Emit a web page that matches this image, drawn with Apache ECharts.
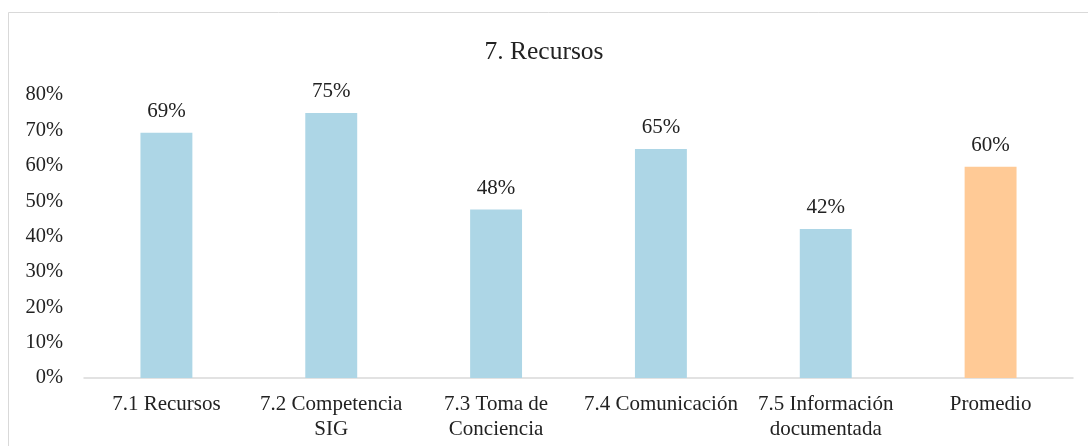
<!DOCTYPE html>
<html>
<head>
<meta charset="utf-8">
<style>
html,body{margin:0;padding:0;background:#fff;}
#chart{width:1088px;height:446px;}
</style>
<script src="https://cdn.jsdelivr.net/npm/echarts@6/dist/echarts.min.js"></script>
</head>
<body>
<div id="chart"></div>
<script>
const chartTitle = "7. Recursos";
const categories = ["7.1 Recursos", "7.2 Competencia\nSIG", "7.3 Toma de\nConciencia", "7.4 Comunicación", "7.5 Información\ndocumentada", "Promedio"];
const values = [69.3, 74.9, 47.6, 64.7, 42.1, 59.7];
const barColors = ["#ADD6E6", "#ADD6E6", "#ADD6E6", "#ADD6E6", "#ADD6E6", "#FFCA96"];
const yTicks = [0, 10, 20, 30, 40, 50, 60, 70, 80];

const FONT = '"Liberation Serif", "Times New Roman", serif';
const chart = echarts.init(document.getElementById('chart'), null, {renderer: 'canvas'});
chart.setOption({
  backgroundColor: '#fff',
  animation: false,
  graphic: [{
    type: 'rect', silent: true,
    shape: {x: 8.5, y: 12.5, width: 1200, height: 600},
    style: {fill: 'none', stroke: '#D9D9D9', lineWidth: 1}
  }],
  title: {
    text: chartTitle, left: 'center', top: 34,
    textStyle: {fontFamily: FONT, fontSize: 25.5, fontWeight: 'normal', color: '#222'}
  },
  grid: {left: 84, right: 15, top: 95, bottom: 68, containLabel: false},
  xAxis: {
    type: 'category', data: categories,
    axisLine: {show: true, lineStyle: {color: '#D9D9D9', width: 1.5}},
    axisTick: {show: false},
    axisLabel: {fontFamily: FONT, fontSize: 21, color: '#222', margin: 14, lineHeight: 25, interval: 0}
  },
  yAxis: {
    type: 'value', min: yTicks[0], max: yTicks[yTicks.length - 1], interval: 10,
    axisLine: {show: false}, axisTick: {show: false},
    splitLine: {show: false},
    axisLabel: {fontFamily: FONT, fontSize: 20.5, color: '#222', margin: 21, formatter: v => v + '%'}
  },
  series: [{
    type: 'bar',
    barWidth: '31.5%',
    data: values.map((v, i) => ({value: v, itemStyle: {color: barColors[i]}})),
    label: {
      show: true, position: 'top', distance: 11,
      fontFamily: FONT, fontSize: 21, color: '#222',
      formatter: p => Math.round(p.value) + '%'
    }
  }]
});
</script>
</body>
</html>
